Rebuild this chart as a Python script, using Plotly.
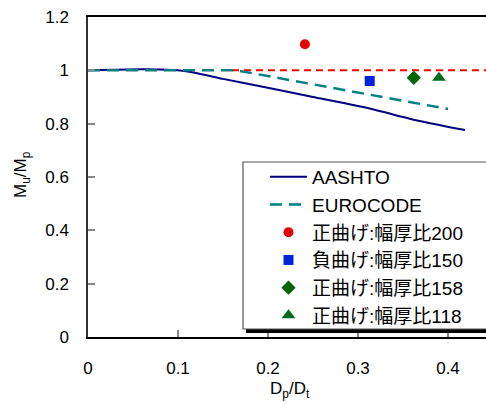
import plotly.graph_objects as go

# ---- data ----
aashto_x = [0.0, 0.03, 0.06, 0.08, 0.10, 0.12, 0.15, 0.19, 0.25, 0.313, 0.363, 0.419]
aashto_y = [1.0, 1.002, 1.004, 1.003, 1.0, 0.99, 0.968, 0.941, 0.90, 0.857, 0.814, 0.776]

euro_x = [0.0, 0.165, 0.40]
euro_y = [1.0, 1.0, 0.855]

ref_x = [0.16, 0.45]
ref_y = [1.0, 1.0]

pt_names = ["正曲げ:幅厚比200", "負曲げ:幅厚比150", "正曲げ:幅厚比158", "正曲げ:幅厚比118"]
pt_x = [0.241, 0.313, 0.362, 0.390]
pt_y = [1.098, 0.960, 0.972, 0.972]
pt_symbols = ["circle", "square", "diamond", "triangle-up"]
pt_colors = ["#e60000", "#0022dd", "#006400", "#006b1a"]
pt_sizes = [10, 10, 11, 12]

x_ticks = [0, 0.1, 0.2, 0.3, 0.4]
x_ticklabels = ["0", "0.1", "0.2", "0.3", "0.4"]
y_ticks = [0, 0.2, 0.4, 0.6, 0.8, 1.0, 1.2]
y_ticklabels = ["0", "0.2", "0.4", "0.6", "0.8", "1", "1.2"]

FONT = "Liberation Sans, Noto Sans CJK JP, sans-serif"

fig = go.Figure()

fig.add_trace(go.Scatter(x=ref_x, y=ref_y, mode="lines",
                         line=dict(color="#ff0000", width=2, dash="7px,5px"),
                         showlegend=False, hoverinfo="skip"))
fig.add_trace(go.Scatter(x=aashto_x, y=aashto_y, mode="lines", name="AASHTO",
                         line=dict(color="#000080", width=2, shape="spline", smoothing=0.5)))
fig.add_trace(go.Scatter(x=euro_x, y=euro_y, mode="lines", name="EUROCODE",
                         line=dict(color="#008080", width=2.5, dash="12px,7px")))
for n, x, y, s, c, sz in zip(pt_names, pt_x, pt_y, pt_symbols, pt_colors, pt_sizes):
    fig.add_trace(go.Scatter(x=[x], y=[y], mode="markers", name=n,
                             marker=dict(symbol=s, color=c, size=sz)))

W, H = 486, 403
L, R, T, B = 88, 0, 17, 66
pw, ph = W - L - R, H - T - B

def px(xp):
    return (xp - L) / pw

def py(yp):
    return (H - B - yp) / ph

# legend box with shadow
fig.add_shape(type="rect", xref="paper", yref="paper",
              x0=px(246), x1=px(520), y0=py(333), y1=py(165),
              line=dict(width=0), fillcolor="black", layer="above")
fig.add_shape(type="rect", xref="paper", yref="paper",
              x0=px(243), x1=px(520), y0=py(329), y1=py(162),
              line=dict(width=1.2, color="#555555"), fillcolor="white", layer="above")

fig.add_annotation(text="M<sub>u</sub>/M<sub>p</sub>", xref="paper", yref="paper",
                   x=px(22), y=py(175), showarrow=False, textangle=-90,
                   font=dict(family=FONT, size=17, color="black"),
                   xanchor="center", yanchor="middle")
fig.add_annotation(text="D<sub>p</sub>/D<sub>t</sub>", xref="paper", yref="paper",
                   x=px(290), y=py(390), showarrow=False,
                   font=dict(family=FONT, size=17, color="black"),
                   xanchor="center", yanchor="middle")

fig.update_layout(
    width=W, height=H,
    margin=dict(l=L, r=R, t=T, b=B),
    paper_bgcolor="white", plot_bgcolor="white",
    font=dict(family=FONT, size=17, color="black"),
    legend=dict(x=px(265), y=py(158), xanchor="left", yanchor="top",
                bgcolor="rgba(0,0,0,0)", borderwidth=0, itemwidth=37,
                font=dict(family=FONT, size=19, color="black")),
    xaxis=dict(range=[0, (W - L - R) / 900], tickvals=x_ticks,
               ticktext=x_ticklabels,
               ticks="inside", ticklen=7, tickcolor="#888888", tickwidth=1.5,
               showline=True, linecolor="black", linewidth=1.5, mirror=True,
               showgrid=False, zeroline=False, ticklabelstandoff=15),
    yaxis=dict(range=[0, 1.2], tickvals=y_ticks, ticktext=y_ticklabels,
               ticks="inside", ticklen=7, tickcolor="#888888", tickwidth=1.5,
               showline=True, linecolor="#333333", linewidth=1.5,
               showgrid=False, zeroline=False, ticklabelstandoff=14),
)

fig.write_html("out.html")
